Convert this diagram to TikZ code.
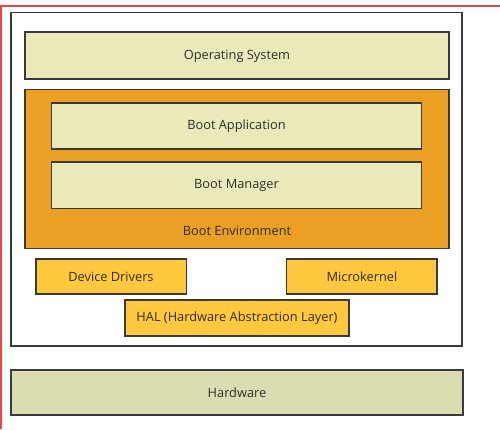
\documentclass[tikz,border=0pt]{standalone}
\usepackage{fontspec}
\setmainfont{Open Sans}
\definecolor{edge}{HTML}{3A3A3A}
\definecolor{txt}{HTML}{2E2E2E}
\definecolor{paleY}{HTML}{E9E9B9}
\definecolor{orangeB}{HTML}{EBA024}
\definecolor{goldB}{HTML}{FFC83E}
\definecolor{hwB}{HTML}{DCDCB1}
\definecolor{redL}{HTML}{EE4444}
\tikzset{
  layer/.style={draw=edge, line width=1.4pt, inner sep=0pt, outer sep=0pt},
  lbl/.style={text=txt, font=\fontsize{12.8}{15}\selectfont, inner sep=0pt},
}
\begin{document}
\begin{tikzpicture}[x=1pt,y=-1pt]
\useasboundingbox (0,0) rectangle (500,429);
\fill[white] (0,0) rectangle (500,429);
% red frame lines
\draw[redL, line width=2pt] (0,6) -- (500,6);
\draw[redL, line width=2pt] (1,6) -- (1,429);
% outer box
\draw[layer, fill=white] (11,12.5) rectangle (462,346);
% OS
\draw[layer, fill=paleY] (25,32) rectangle (449,79);
\node[lbl] (os) at (237,56) {Operating System};
% Boot environment
\draw[layer, fill=orangeB] (25,89.5) rectangle (449,248.5);
\draw[layer, fill=paleY] (51.5,103) rectangle (421.5,149);
\node[lbl] (ba) at (236.5,126.5) {Boot Application};
\draw[layer, fill=paleY] (51.5,162) rectangle (421.5,208.5);
\node[lbl] (bm) at (236.5,185.5) {Boot Manager};
\node[lbl] (be) at (237,230.5) {Boot Environment};
% drivers, microkernel, HAL
\draw[layer, fill=goldB] (36,259) rectangle (186.5,294);
\node[lbl] (dd) at (111,276.5) {Device Drivers};
\draw[layer, fill=goldB] (286.5,259) rectangle (437,294);
\node[lbl] (mk) at (362,276.5) {Microkernel};
\draw[layer, fill=goldB] (125,300) rectangle (349,336);
\node[lbl] (hal) at (237,318.5) {HAL (Hardware Abstraction Layer)};
% hardware
\draw[layer, fill=hwB] (11,370) rectangle (463,415);
\node[lbl] (hw) at (237,393) {Hardware};
\end{tikzpicture}
\end{document}
